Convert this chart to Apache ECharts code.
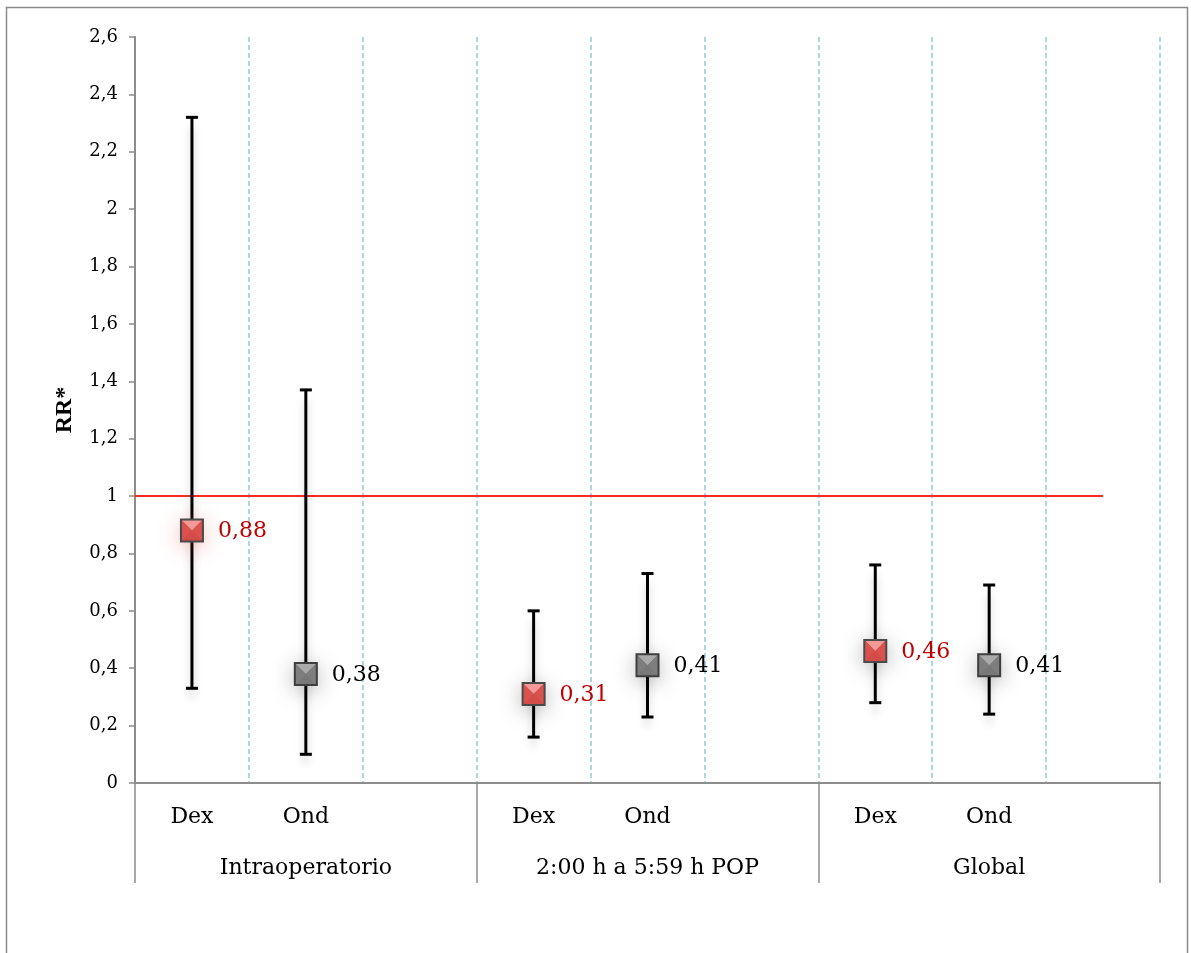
<!DOCTYPE html>
<html>
<head>
<meta charset="utf-8">
<script src="https://cdn.jsdelivr.net/npm/echarts@6/dist/echarts.min.js"></script>
<style>
html,body{margin:0;padding:0;background:#fff;}
#chart{width:1191px;height:953px;}
</style>
</head>
<body>
<div id="chart"></div>
<script>
// ---- data ----
const categories = ['Dex', 'Ond', '', 'Dex', 'Ond', '', 'Dex', 'Ond', ''];
const groups = ['Intraoperatorio', '2:00 h a 5:59 h POP', 'Global'];
const rrValues = [0.88, 0.38, null, 0.31, 0.41, null, 0.46, 0.41, null];
const lowerCI = [0.33, 0.10, null, 0.16, 0.23, null, 0.28, 0.24, null];
const upperCI = [2.32, 1.37, null, 0.60, 0.73, null, 0.76, 0.69, null];
const referenceValue = 1;
const referenceSpan = [0, 8.5]; // in category-slot units
const yMin = 0, yMax = 2.6, yStep = 0.2;
const yAxisName = 'RR*';

const FONT = 'DejaVu Serif';
const fmt = v => String(+(+v).toFixed(2)).replace('.', ',');

const ciData = [];
categories.forEach((c, i) => {
  if (rrValues[i] != null) ciData.push([i, rrValues[i], lowerCI[i], upperCI[i], c]);
});

const chart = echarts.init(document.getElementById('chart'));

function renderItem(params, api) {
  const idx = api.value(0);
  const rr = api.value(1), lo = api.value(2), hi = api.value(3);
  const drug = categories[idx];
  const pRR = api.coord([idx, rr]);
  const pLo = api.coord([idx, lo]);
  const pHi = api.coord([idx, hi]);
  const x = pRR[0];
  const cap = 6;
  const h = 11;
  const isDex = drug === 'Dex';
  const cols = isDex
    ? { top: '#f29a98', side: '#d9524e', bottom: '#d24c48', border: '#4a4a4a' }
    : { top: '#aaaaaa', side: '#7e7e7e', bottom: '#787878', border: '#3e3e3e' };
  const lineStyle = { stroke: '#000', lineWidth: 3, shadowColor: 'rgba(0,0,0,0.22)', shadowBlur: 8, shadowOffsetY: 10 };
  const capStyle = { stroke: '#000', lineWidth: 3 };
  const tl = [x - h, pRR[1] - h], tr = [x + h, pRR[1] - h], br = [x + h, pRR[1] + h], bl = [x - h, pRR[1] + h], c = [x, pRR[1]];
  return {
    type: 'group',
    children: [
      { type: 'line', shape: { x1: x, y1: pHi[1], x2: x, y2: pLo[1] }, style: lineStyle },
      { type: 'line', shape: { x1: x - cap, y1: pHi[1], x2: x + cap, y2: pHi[1] }, style: capStyle },
      { type: 'line', shape: { x1: x - cap, y1: pLo[1], x2: x + cap, y2: pLo[1] }, style: capStyle },
      { type: 'rect', shape: { x: x - h, y: pRR[1] - h, width: 2 * h, height: 2 * h },
        style: { fill: cols.side, shadowColor: isDex && idx === 0 ? 'rgba(220,30,30,0.35)' : 'rgba(0,0,0,0.35)', shadowBlur: 22, shadowOffsetY: 4 } },
      { type: 'polygon', shape: { points: [tl, tr, c] }, style: { fill: cols.top } },
      { type: 'polygon', shape: { points: [bl, br, c] }, style: { fill: cols.bottom } },
      { type: 'polygon', shape: { points: [tl, bl, c] }, style: { fill: cols.side } },
      { type: 'polygon', shape: { points: [tr, br, c] }, style: { fill: cols.side } },
      { type: 'rect', shape: { x: x - h, y: pRR[1] - h, width: 2 * h, height: 2 * h },
        style: { fill: 'none', stroke: cols.border, lineWidth: 2 } },
      { type: 'text', x: x + 26, y: pRR[1] + 1,
        style: { text: fmt(rr), fill: isDex ? '#c00000' : '#000', font: '22px "' + FONT + '"', verticalAlign: 'middle', align: 'left' } }
    ]
  };
}

const option = {
  animation: false,
  backgroundColor: '#fff',
  textStyle: { fontFamily: FONT },
  grid: { left: 135, right: 31, top: 37, bottom: 170 },
  graphic: [{
    type: 'rect', silent: true, z: -10,
    shape: { x: 6.5, y: 7.5, width: 1181, height: 960 },
    style: { fill: 'none', stroke: '#8a8a8a', lineWidth: 1.5 }
  }],
  xAxis: [
    {
      type: 'category', data: categories, boundaryGap: true, position: 'bottom',
      axisLine: { show: true, lineStyle: { color: '#8c8c8c', width: 2 } },
      axisTick: { show: false },
      axisLabel: { color: '#000', fontSize: 22, fontFamily: FONT, margin: 23, interval: 0 },
      splitLine: { show: true, interval: 0, lineStyle: { color: '#8fcbe0', type: [5, 3], width: 1.5 } }
    },
    {
      type: 'category', data: groups, boundaryGap: true, position: 'bottom',
      axisLine: { show: false },
      axisTick: { show: true, length: 100, lineStyle: { color: '#8c8c8c', width: 1.5 } },
      axisLabel: { color: '#000', fontSize: 22, fontFamily: FONT, margin: 74, interval: 0 },
      splitLine: { show: false }
    },
    {
      type: 'value', min: 0, max: categories.length, show: false, splitLine: { show: false }
    }
  ],
  yAxis: {
    type: 'value', min: yMin, max: yMax, interval: yStep,
    name: yAxisName, nameLocation: 'middle', nameGap: 58, nameRotate: 90,
    nameTextStyle: { color: '#000', fontSize: 24, fontWeight: 'bold', fontFamily: 'Liberation Serif' },
    axisLine: { show: true, lineStyle: { color: '#8c8c8c', width: 2 } },
    axisTick: { show: true, length: 6, lineStyle: { color: '#8c8c8c', width: 1.5 } },
    axisLabel: { color: '#000', fontSize: 18, fontFamily: FONT, margin: 17, formatter: v => fmt(v) },
    splitLine: { show: false }
  },
  series: [
    {
      type: 'line', xAxisIndex: 2, yAxisIndex: 0, z: 1,
      data: referenceSpan.map(s => [s, referenceValue]),
      symbol: 'none', lineStyle: { color: '#ff2a2a', width: 2 }, silent: true
    },
    {
      type: 'custom', xAxisIndex: 0, yAxisIndex: 0, z: 5,
      renderItem: renderItem,
      encode: { x: 0, y: [1, 2, 3] },
      data: ciData
    }
  ]
};
chart.setOption(option);
</script>
</body>
</html>
